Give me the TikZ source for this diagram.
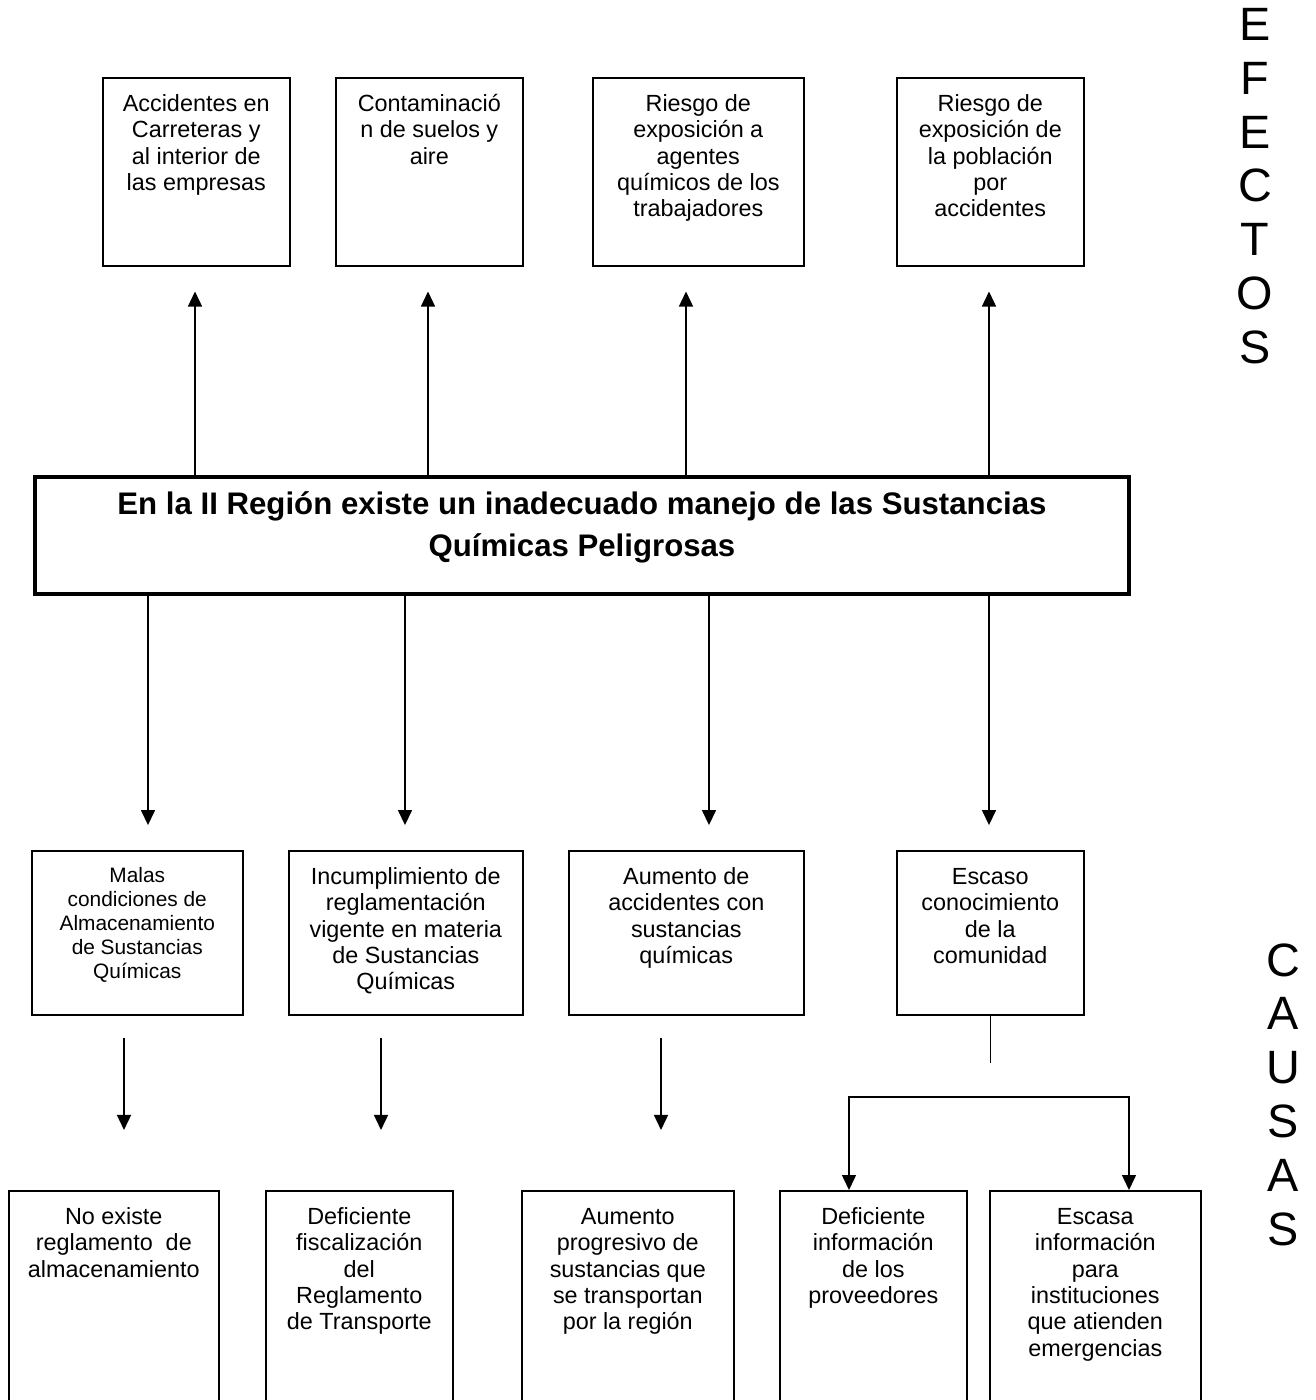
\documentclass[tikz,border=0pt]{standalone}
\usepackage{fontspec}
\setmainfont{Liberation Sans}
\usetikzlibrary{arrows.meta}

\newdimen\pxu
\pxu=0.513pt
% caja de texto alineado arriba: [margen]{ancho}{alto}{texto}
\newcommand{\cajatexto}[4][7.8pt]{\parbox[b][#3\pxu][t]{#2\pxu}{\centering\vspace*{#1}\strut#4}}

\tikzset{
  caja/.style={draw, line width=0.8pt, inner sep=0pt, anchor=north west,
    font=\fontsize{12pt}{13.5pt}\selectfont},
  problema/.style={caja, line width=2pt, font=\bfseries\fontsize{16pt}{21.4pt}\selectfont},
  letras/.style={inner sep=0pt, anchor=north, align=center,
    font=\fontsize{24pt}{27.6pt}\selectfont},
  linea/.style={line width=0.7pt},
  flecha/.style={linea, -{Triangle[length=7.7pt,width=7.2pt]}}
}

\begin{document}
\begin{tikzpicture}[x=0.513pt, y=-0.513pt]
    \useasboundingbox (0,0) rectangle (1315,1400);
    % efectos
    \node[caja] (efecto1) at (102,77) {\cajatexto{187}{188}{Accidentes en\\Carreteras y\\al interior de\\las empresas}};
    \node[caja] (efecto2) at (335,77) {\cajatexto{187}{188}{Contaminació\\n de suelos y\\aire}};
    \node[caja] (efecto3) at (592,77) {\cajatexto{211}{188}{Riesgo de\\exposición a\\agentes\\químicos de los\\trabajadores}};
    \node[caja] (efecto4) at (896,77) {\cajatexto{187}{188}{Riesgo de\\exposición de\\la población\\por\\accidentes}};
    \node[letras] (efectos) at (1255,8) {E\\F\\E\\C\\T\\O\\S};
    % problema central
    \node[problema] (problema) at (33,475) {\cajatexto[4.4pt]{1094}{117}{En la II Región existe un inadecuado manejo de las Sustancias\\Químicas Peligrosas}};
    % causas
    \node[caja, font=\fontsize{10.7pt}{12.3pt}\selectfont] (causa1) at (31,850) {\cajatexto{211}{164}{Malas\\condiciones de\\Almacenamiento\\de Sustancias\\Químicas}};
    \node[caja] (causa2) at (288,850) {\cajatexto{234}{164}{Incumplimiento de\\reglamentación\\vigente en materia\\de Sustancias\\Químicas}};
    \node[caja] (causa3) at (568,850) {\cajatexto{235}{164}{Aumento de\\accidentes con\\sustancias\\químicas}};
    \node[caja] (causa4) at (896,850) {\cajatexto{187}{164}{Escaso\\conocimiento\\de la\\comunidad}};
    \node[letras] (causas) at (1283,943) {C\\A\\U\\S\\A\\S};
    % causas de fondo
    \node[caja] (base1) at (8,1190) {\cajatexto{210}{235}{No existe\\reglamento~ de\\almacenamiento}};
    \node[caja] (base2) at (265,1190) {\cajatexto{187}{235}{Deficiente\\fiscalización\\del\\Reglamento\\de Transporte}};
    \node[caja] (base3) at (521,1190) {\cajatexto{212}{235}{Aumento\\progresivo de\\sustancias que\\se transportan\\por la región}};
    \node[caja] (base4) at (779,1190) {\cajatexto{187}{235}{Deficiente\\información\\de los\\proveedores}};
    \node[caja] (base5) at (989,1190) {\cajatexto{211}{235}{Escasa\\información\\para\\instituciones\\que atienden\\emergencias}};
    % flechas
    \foreach \n/\x in {1/195, 2/428, 3/686, 4/989}
        \draw[flecha, shorten >=12.8pt] (problema.north -| \x,0) -- (efecto\n.south -| \x,0);
    \foreach \n/\x in {1/148, 2/405, 3/709, 4/989}
        \draw[flecha, shorten >=12.8pt] (problema.south -| \x,0) -- (causa\n.north -| \x,0);
    \foreach \n/\x in {1/124, 2/381, 3/661}
        \draw[flecha, shorten <=11.3pt, shorten >=30.8pt] (causa\n.south -| \x,0) -- (base\n.north -| \x,0);
    \draw[linea] (causa4.south) -- ++(0,47);
    \coordinate (ramal) at (989,1097);
    \draw[flecha] (ramal) -| (base4.north -| 849,0);
    \draw[flecha] (ramal) -| (base5.north -| 1129,0);
\end{tikzpicture}
\end{document}
